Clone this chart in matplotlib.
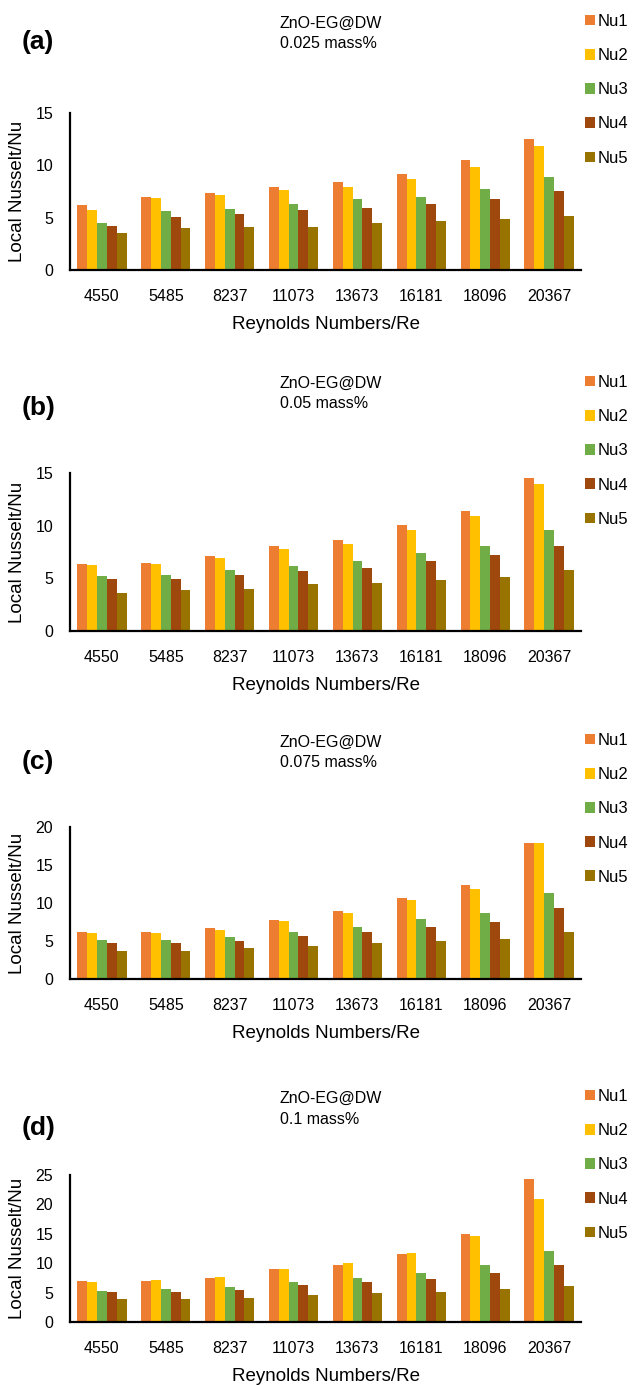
import numpy as np
import matplotlib.pyplot as plt

plt.rcParams['font.family'] = ['Liberation Sans', 'DejaVu Sans']

reynolds = ['4550', '5485', '8237', '11073', '13673', '16181', '18096', '20367']
series = ['Nu1', 'Nu2', 'Nu3', 'Nu4', 'Nu5']
colors = ['#ED7D31', '#FFC000', '#70AD47', '#9E480E', '#997300']

# panel (a) 0.025 mass%
a_nu1 = [6.2, 6.95, 7.35, 7.9, 8.45, 9.15, 10.5, 12.55]
a_nu2 = [5.75, 6.85, 7.2, 7.65, 7.9, 8.65, 9.85, 11.8]
a_nu3 = [4.5, 5.65, 5.85, 6.3, 6.8, 7.0, 7.7, 8.85]
a_nu4 = [4.2, 5.05, 5.35, 5.7, 5.95, 6.3, 6.8, 7.55]
a_nu5 = [3.5, 4.0, 4.1, 4.1, 4.5, 4.7, 4.9, 5.2]

# panel (b) 0.05 mass%
b_nu1 = [6.4, 6.45, 7.1, 8.05, 8.6, 10.05, 11.35, 14.55]
b_nu2 = [6.3, 6.4, 6.9, 7.8, 8.3, 9.6, 10.95, 14.0]
b_nu3 = [5.25, 5.3, 5.75, 6.2, 6.6, 7.45, 8.1, 9.55]
b_nu4 = [4.95, 4.95, 5.3, 5.7, 6.0, 6.6, 7.2, 8.05]
b_nu5 = [3.6, 3.85, 4.0, 4.45, 4.55, 4.85, 5.15, 5.75]

# panel (c) 0.075 mass%
c_nu1 = [6.15, 6.25, 6.7, 7.8, 8.95, 10.6, 12.4, 17.85]
c_nu2 = [6.0, 6.1, 6.45, 7.65, 8.65, 10.35, 11.9, 17.85]
c_nu3 = [5.15, 5.15, 5.5, 6.25, 6.9, 7.85, 8.7, 11.3]
c_nu4 = [4.7, 4.8, 5.05, 5.65, 6.25, 6.9, 7.55, 9.3]
c_nu5 = [3.7, 3.75, 4.05, 4.35, 4.7, 5.05, 5.3, 6.15]

# panel (d) 0.1 mass%
d_nu1 = [6.95, 6.95, 7.5, 8.95, 9.75, 11.5, 15.0, 24.3]
d_nu2 = [6.85, 7.15, 7.7, 9.0, 10.0, 11.8, 14.55, 20.85]
d_nu3 = [5.35, 5.6, 5.95, 6.85, 7.4, 8.35, 9.75, 12.0]
d_nu4 = [5.05, 5.15, 5.45, 6.25, 6.85, 7.3, 8.35, 9.75]
d_nu5 = [3.95, 3.95, 4.15, 4.6, 4.95, 5.15, 5.65, 6.15]

panels = [
    ('(a)', '0.025 mass%', [a_nu1, a_nu2, a_nu3, a_nu4, a_nu5], 15),
    ('(b)', '0.05 mass%', [b_nu1, b_nu2, b_nu3, b_nu4, b_nu5], 15),
    ('(c)', '0.075 mass%', [c_nu1, c_nu2, c_nu3, c_nu4, c_nu5], 20),
    ('(d)', '0.1 mass%', [d_nu1, d_nu2, d_nu3, d_nu4, d_nu5], 25),
]

# pixel layout of each panel (figure is 632 x 1385)
W, H = 632, 1385
axis_top = [113, 473, 827, 1175]
axis_bottom = [270, 631, 979, 1322]
title_y = [23, 383, 742, 1098]
letter_y = [42, 408, 762, 1128]
legend_y = [14, 375, 733, 1089]

fig = plt.figure(figsize=(W / 100, H / 100), dpi=100)

x = np.arange(len(reynolds))
bw = 0.154

for i, (letter, conc, values, ymax) in enumerate(panels):
    ax = fig.add_axes([70 / W, 1 - axis_bottom[i] / H, 511 / W,
                       (axis_bottom[i] - axis_top[i]) / H])
    for j, vals in enumerate(values):
        ax.bar(x + (j - 2) * bw, vals, bw, color=colors[j], label=series[j])
    ax.set_xlim(-0.5, 7.5)
    ax.set_ylim(0, ymax)
    ax.set_yticks(np.arange(0, ymax + 1, 5))
    ax.set_xticks(x)
    ax.set_xticklabels(reynolds)
    ax.tick_params(length=0, labelsize=11.5)
    ax.tick_params(axis='x', pad=14)
    ax.tick_params(axis='y', pad=12)
    for s in ['top', 'right']:
        ax.spines[s].set_visible(False)
    ax.spines['left'].set_linewidth(1.6)
    ax.spines['bottom'].set_linewidth(1.6)
    ax.set_ylabel('Local Nusselt/Nu', fontsize=13.5, labelpad=7)
    ax.set_xlabel('Reynolds Numbers/Re', fontsize=13.5, labelpad=8)

    fig.text(280 / W, 1 - title_y[i] / H, 'ZnO-EG@DW', fontsize=11.5,
             va='center', ha='left')
    fig.text(280 / W, 1 - (title_y[i] + 21) / H, conc, fontsize=11.5,
             va='center', ha='left')
    fig.text(22 / W, 1 - letter_y[i] / H, letter, fontsize=19,
             fontweight='bold', va='center', ha='left')

    ax.legend(loc='upper left', bbox_to_anchor=(585 / W, 1 - legend_y[i] / H),
              bbox_transform=fig.transFigure, frameon=False, fontsize=12,
              handlelength=0.6, handleheight=0.6, handletextpad=0.15,
              labelspacing=1.15, borderpad=0, borderaxespad=0)

fig.savefig('out.png', dpi=100)
